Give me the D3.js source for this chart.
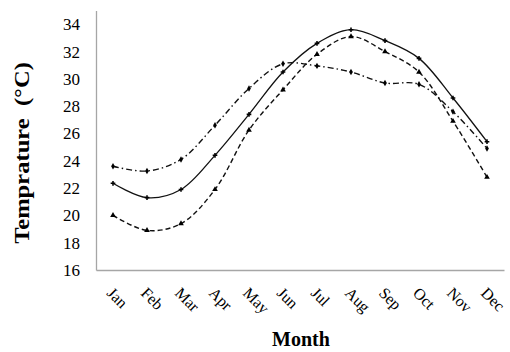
<!DOCTYPE html>
<html>
<head>
<meta charset="utf-8">
<script src="https://cdn.jsdelivr.net/npm/d3@7"></script>
<style>
  body { margin: 0; background: #fff; }
  svg { display: block; font-family: "Liberation Serif", "Times New Roman", serif; }
</style>
</head>
<body>
<svg id="chart" width="510" height="352"></svg>
<script>
const months = ["Jan", "Feb", "Mar", "Apr", "May", "Jun", "Jul", "Aug", "Sep", "Oct", "Nov", "Dec"];
const solidSeries = [22.35, 21.3, 21.9, 24.4, 27.4, 30.5, 32.6, 33.6, 32.8, 31.5, 28.6, 25.4];
const dashedSeries = [20.0, 18.9, 19.4, 21.9, 26.25, 29.2, 31.8, 33.1, 32.0, 30.5, 26.9, 22.8];
const dashDotSeries = [23.6, 23.25, 24.1, 26.6, 29.3, 31.1, 30.95, 30.5, 29.7, 29.6, 27.6, 24.9];
const yTicks = [16, 18, 20, 22, 24, 26, 28, 30, 32, 34];

const svg = d3.select("#chart");

const x = d3.scaleBand()
    .domain(months)
    .range([96, 504])
    .padding(0);

const y = d3.scaleLinear()
    .domain([16, 35])
    .range([270, 10.6]);

const cx = m => x(m) + x.bandwidth() / 2;

// y axis
const yAxis = svg.append("g")
    .attr("transform", "translate(96,0)")
    .call(d3.axisLeft(y).tickValues(yTicks).tickSize(0).tickPadding(16).tickFormat(d3.format("d")));
yAxis.select(".domain").attr("stroke", "#a6a6a6").attr("stroke-width", 1.3);
yAxis.selectAll("text")
    .attr("font-family", "Liberation Serif")
    .attr("font-size", 17)
    .attr("fill", "#000");

// x axis
const xAxis = svg.append("g")
    .attr("transform", "translate(0,270)")
    .call(d3.axisBottom(x).tickSize(0).tickSizeOuter(0));
xAxis.select(".domain").attr("stroke", "#a6a6a6").attr("stroke-width", 1.3);
xAxis.selectAll("text")
    .attr("font-family", "Liberation Serif")
    .attr("font-size", 16)
    .attr("fill", "#000")
    .attr("x", 0)
    .attr("y", 0)
    .attr("dy", 0)
    .attr("text-anchor", "start")
    .attr("transform", "translate(-7,24) rotate(45)");

// axis titles
svg.append("text")
    .attr("transform", "translate(29,153) rotate(-90) scale(1.17,1)")
    .attr("text-anchor", "middle")
    .attr("font-size", 21)
    .attr("font-weight", "bold")
    .style("white-space", "pre")
    .text("Temprature  (\u00B0C)");

svg.append("text")
    .attr("x", 301)
    .attr("y", 346)
    .attr("text-anchor", "middle")
    .attr("font-size", 20)
    .attr("font-weight", "bold")
    .text("Month");

// lines
const line = d3.line()
    .x((d, i) => cx(months[i]))
    .y(d => y(d))
    .curve(d3.curveCatmullRom.alpha(0.5));

const series = [
    { values: solidSeries, dash: null, width: 1.3, marker: d3.symbolCross, size: 12 },
    { values: dashedSeries, dash: "5,3", width: 1.4, marker: d3.symbolTriangle, size: 14 },
    { values: dashDotSeries, dash: "6,3,1.5,3", width: 1.4, marker: d3.symbolDiamond, size: 12 }
];

series.forEach(s => {
    svg.append("path")
        .datum(s.values)
        .attr("fill", "none")
        .attr("stroke", "#111")
        .attr("stroke-width", s.width)
        .attr("stroke-dasharray", s.dash)
        .attr("d", line);

    svg.append("g")
        .selectAll("path")
        .data(s.values)
        .join("path")
        .attr("transform", (d, i) => `translate(${cx(months[i])},${y(d)})`)
        .attr("d", d3.symbol().type(s.marker).size(s.size))
        .attr("fill", "#000");
});
</script>
</body>
</html>
